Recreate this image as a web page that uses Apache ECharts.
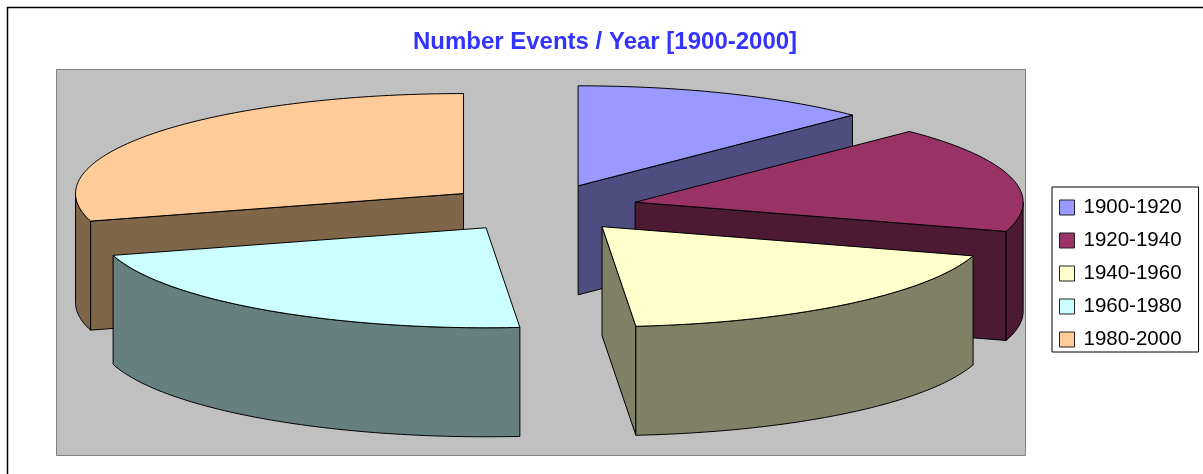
<!DOCTYPE html>
<html>
<head>
<meta charset="utf-8">
<style>html,body{margin:0;padding:0;background:#fff}#c{width:1203px;height:474px}</style>
<script src="https://cdn.jsdelivr.net/npm/echarts@6/dist/echarts.min.js"></script>
</head>
<body>
<div id="c"></div>
<script>
const titleText = 'Number Events / Year [1900-2000]';
const categories = ['1900-1920', '1920-1940', '1940-1960', '1960-1980', '1980-2000'];
const values = [45, 62, 68, 79, 106];
const topColors = ['#9999FF', '#993366', '#FFFFCC', '#CCFFFF', '#FFCC99'];
const sideColors = ['#4D4D80', '#4D1A33', '#808066', '#668080', '#806648'];
const drawOrder = [0, 4, 1, 2, 3];

const total = values.reduce((a, b) => a + b, 0);
const starts = values.map((_, i) => values.slice(0, i).reduce((a, b) => a + b, 0));

// 3D pie projection
const CX = 541, CY = 208, RX = 388, RY = 100, DEPTH = 109, EX = 97, EY = 24;
const rad = d => d * Math.PI / 180;

function renderSlice(params, api) {
  const t0 = api.value(0) / total * 360;
  const t1 = (api.value(0) + api.value(1)) / total * 360;
  const idx = api.value(2);
  const mid = rad((t0 + t1) / 2);
  const ax = CX + EX * Math.sin(mid);
  const ay = CY - EY * Math.cos(mid);
  const pt = (t, dz) => [ax + RX * Math.sin(rad(t)), ay - RY * Math.cos(rad(t)) + (dz || 0)];
  const arc = (a, b, dz) => {
    const out = [];
    const n = Math.max(2, Math.ceil((b - a)));
    for (let i = 0; i <= n; i++) out.push(pt(a + (b - a) * i / n, dz));
    return out;
  };
  const top = topColors[idx], side = sideColors[idx];
  const stroke = { stroke: '#000', lineWidth: 1, lineJoin: 'round' };
  const poly = (points, fill) => ({
    type: 'polygon', shape: { points }, style: Object.assign({ fill }, stroke), silent: true
  });
  const children = [];
  const wall = t => poly([[ax, ay], pt(t), pt(t, DEPTH), [ax, ay + DEPTH]], side);
  if (Math.sin(rad(t0)) < -1e-6) children.push(wall(t0));
  if (Math.sin(rad(t1)) > 1e-6) children.push(wall(t1));
  const a = Math.max(t0, 90), b = Math.min(t1, 270);
  if (b > a) children.push(poly(arc(a, b, 0).concat(arc(a, b, DEPTH).reverse()), side));
  children.push(poly([[ax, ay]].concat(arc(t0, t1, 0)), top));
  return { type: 'group', children };
}

const series = drawOrder.map(i => ({
  type: 'custom',
  name: categories[i],
  coordinateSystem: 'none',
  silent: true,
  clip: false,
  itemStyle: { color: topColors[i] },
  renderItem: renderSlice,
  data: [[starts[i], values[i], i]]
}));

const chart = echarts.init(document.getElementById('c'), null, { renderer: 'canvas' });
chart.setOption({
  animation: false,
  backgroundColor: '#fff',
  textStyle: { fontFamily: '"Liberation Sans", Arial, sans-serif' },
  title: {
    text: titleText,
    left: 600,
    top: 25,
    textAlign: 'center',
    textStyle: { color: '#3333FF', fontSize: 24, fontWeight: 'bold', fontFamily: '"Liberation Sans", Arial, sans-serif' }
  },
  legend: {
    data: categories,
    orient: 'vertical',
    left: 1052,
    top: 187,
    padding: [10, 17, 2, 7],
    itemWidth: 15,
    itemHeight: 15,
    itemGap: 12,
    icon: 'rect',
    selectedMode: false,
    backgroundColor: '#fff',
    borderColor: '#000',
    borderWidth: 1,
    itemStyle: { borderColor: '#222', borderWidth: 1 },
    textStyle: { color: '#000', fontSize: 20.5, padding: [0, 0, 0, 4], fontFamily: '"Liberation Sans", Arial, sans-serif' }
  },
  graphic: [
    { type: 'rect', z: -10, silent: true, shape: { x: 7.5, y: 7.5, width: 1300, height: 600 },
      style: { fill: '#fff', stroke: '#000', lineWidth: 1.5 } },
    { type: 'rect', z: -9, silent: true, shape: { x: 56.5, y: 69.5, width: 969, height: 386 },
      style: { fill: '#C0C0C0', stroke: '#808080', lineWidth: 1 } }
  ],
  series
});
</script>
</body>
</html>
